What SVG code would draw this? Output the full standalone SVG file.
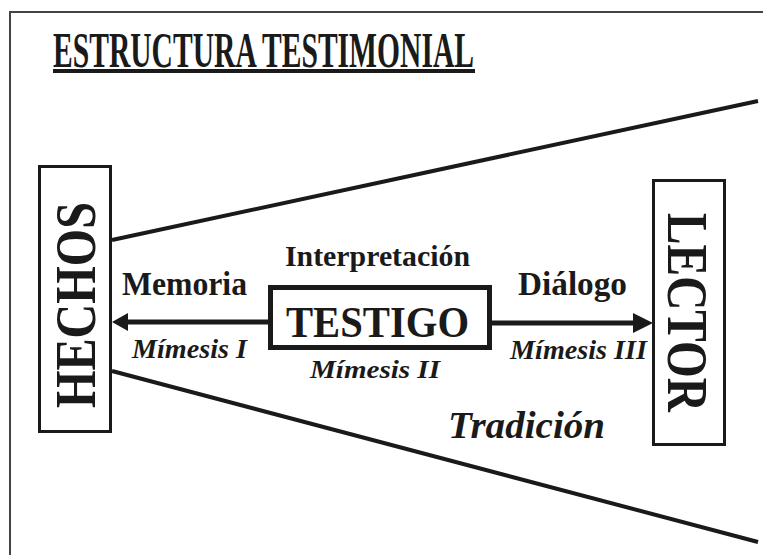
<svg xmlns="http://www.w3.org/2000/svg" width="763" height="555" viewBox="0 0 763 555">
<style>
.t{font-family:"Liberation Serif","Times New Roman",serif;font-weight:bold;fill:#1a1a1a}
.i{font-style:italic}
.box{fill:#fff;stroke:#1a1a1a}
.ln{stroke:#1a1a1a;fill:none}
</style>
<rect x="0" y="0" width="763" height="555" fill="#fff"/>
<g id="frame">
<line x1="10" y1="12" x2="10" y2="555" stroke="#444" stroke-width="2"/>
<line x1="9" y1="12" x2="763" y2="12" stroke="#444" stroke-width="2"/>
</g>
<g id="title">
<text class="t" transform="translate(53,67) scale(0.62,1)" x="0" y="0" font-size="50" textLength="679" lengthAdjust="spacingAndGlyphs">ESTRUCTURA TESTIMONIAL</text>
<rect x="53" y="69" width="422" height="4" fill="#1a1a1a"/>
</g>
<g id="connectors">
<line class="ln" x1="112" y1="240" x2="758" y2="101" stroke-width="4"/>
<line class="ln" x1="112" y1="371" x2="758" y2="542" stroke-width="4"/>
<line class="ln" x1="270" y1="322" x2="126" y2="322" stroke-width="5"/>
<polygon points="112,322 128,313 128,331" fill="#1a1a1a"/>
<line class="ln" x1="490" y1="323" x2="636" y2="323" stroke-width="5"/>
<polygon points="653,323 633,313 633,333" fill="#1a1a1a"/>
</g>
<g id="hechos">
<rect class="box" x="39.5" y="166.5" width="71" height="265" stroke-width="3"/>
<text class="t" transform="translate(95,305) rotate(-90)" text-anchor="middle" font-size="56" textLength="206" lengthAdjust="spacingAndGlyphs">HECHOS</text>
</g>
<g id="testigo">
<rect class="box" x="270.5" y="287.5" width="219" height="60" stroke-width="5"/>
<text class="t" x="286" y="337" font-size="45" textLength="183" lengthAdjust="spacingAndGlyphs">TESTIGO</text>
</g>
<g id="lector">
<rect class="box" x="653.5" y="180.5" width="71" height="264" stroke-width="3"/>
<text class="t" transform="translate(668,312.5) rotate(90)" text-anchor="middle" font-size="58" textLength="199" lengthAdjust="spacingAndGlyphs">LECTOR</text>
</g>
<g id="labels">
<text class="t" x="122" y="295" font-size="33" textLength="125" lengthAdjust="spacingAndGlyphs">Memoria</text>
<text class="t i" x="132" y="358" font-size="27" textLength="115" lengthAdjust="spacingAndGlyphs">Mímesis I</text>
<text class="t" x="285" y="266" font-size="30" textLength="185" lengthAdjust="spacingAndGlyphs">Interpretación</text>
<text class="t i" x="310" y="378" font-size="26" textLength="130" lengthAdjust="spacingAndGlyphs">Mímesis II</text>
<text class="t" x="518" y="295" font-size="33" textLength="109" lengthAdjust="spacingAndGlyphs">Diálogo</text>
<text class="t i" x="510" y="359" font-size="27" textLength="137" lengthAdjust="spacingAndGlyphs">Mímesis III</text>
<text class="t i" x="448" y="438" font-size="37" textLength="157" lengthAdjust="spacingAndGlyphs">Tradición</text>
</g>
</svg>
